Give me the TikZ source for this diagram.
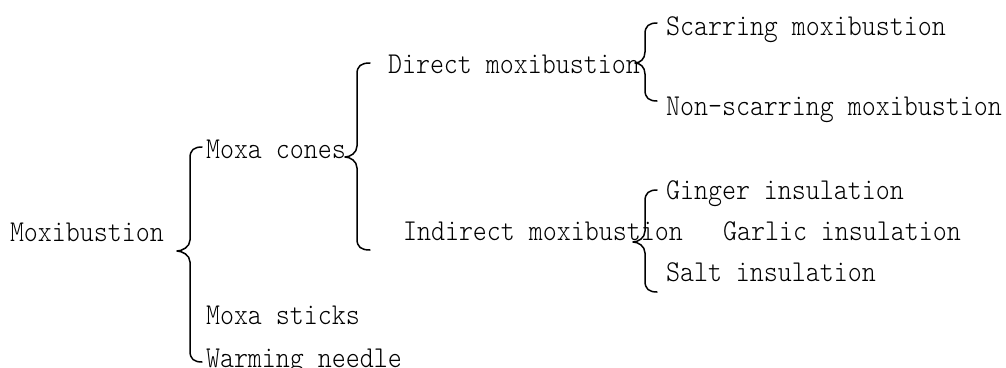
\documentclass[tikz,border=0pt]{standalone}
\usepackage{fontspec}
\newfontfamily\labelmono{lmmonolt10-regular.otf}[FakeStretch=0.88]
\tikzset{
  lbl/.style={anchor=base west, inner sep=0pt, outer sep=0pt,
    font=\labelmono\fontsize{30.3}{30}\selectfont},
  brace/.style={line width=1.5pt, line cap=round, line join=round}
}
% curly brace: vertical x, tip x, end x, top y, tip y, bottom y
\newcommand\curlybrace[6]{%
  \draw[brace] (#3,#4) .. controls (#1+4,#4) and (#1,#4+3) .. (#1,#4+11)
    -- (#1,#5-11) .. controls (#1,#5-4) and (#2+5,#5) .. (#2,#5)
    .. controls (#2+5,#5) and (#1,#5+4) .. (#1,#5+11)
    -- (#1,#6-11) .. controls (#1,#6-3) and (#1+4,#6) .. (#3,#6);}
\begin{document}
\begin{tikzpicture}[x=1pt,y=-1pt]
  \useasboundingbox (0,0) rectangle (1006,367);
  % labels
  \node[lbl] (root)     at (10,241)  {Moxibustion};
  \node[lbl] (cones)    at (206,158) {Moxa cones};
  \node[lbl] (sticks)   at (206,324) {Moxa sticks};
  \node[lbl] (needle)   at (206,367) {Warming needle};
  \node[lbl] (direct)   at (388,73)  {Direct moxibustion};
  \node[lbl] (indirect) at (403,240) {Indirect moxibustion};
  \node[lbl] (scar)     at (666,35)  {Scarring moxibustion};
  \node[lbl] (nonscar)  at (666,115) {Non-scarring moxibustion};
  \node[lbl] (ginger)   at (666,199) {Ginger insulation};
  \node[lbl] (garlic)   at (723,240) {Garlic insulation};
  \node[lbl] (salt)     at (666,281) {Salt insulation};
  % braces
  \curlybrace{190}{177}{202}{147}{251}{362}
  \curlybrace{357}{345}{370}{63}{157}{250}
  \curlybrace{645}{635}{657}{23}{63}{101}
  \curlybrace{645}{633}{657}{190}{242}{292}
\end{tikzpicture}
\end{document}
